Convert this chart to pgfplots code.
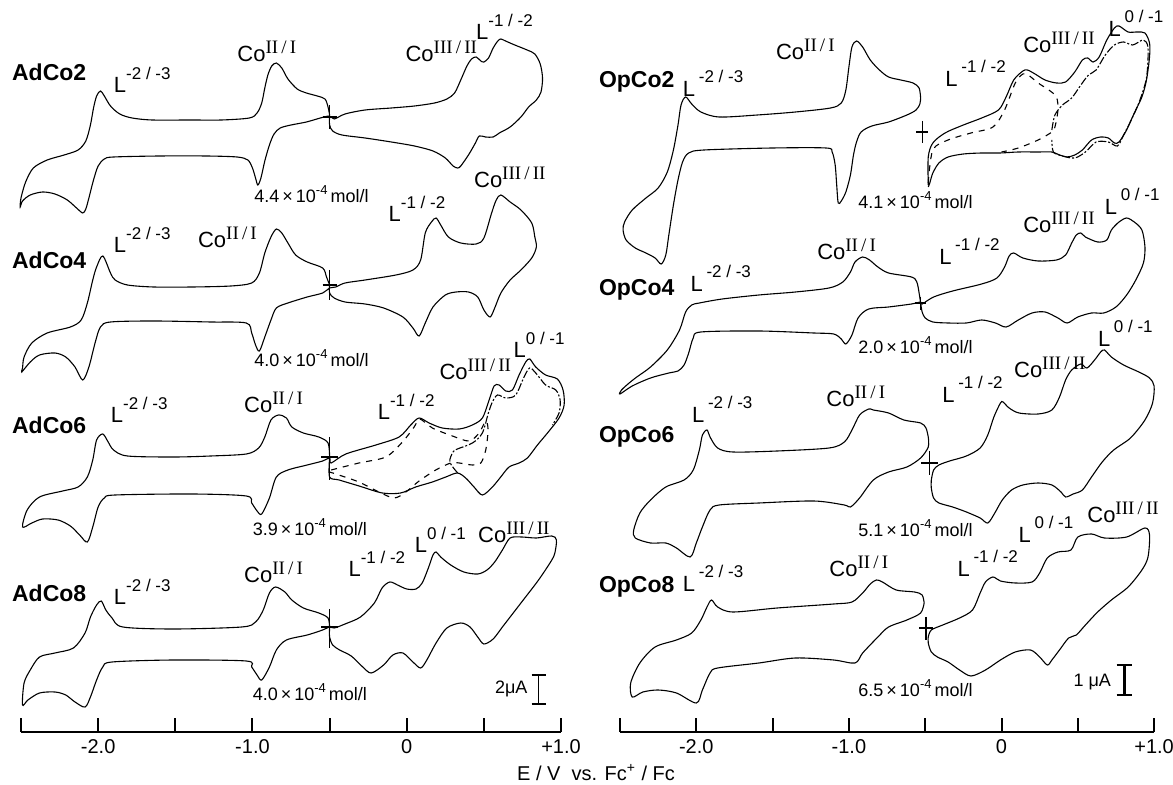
\documentclass[border=0pt]{standalone}
\usepackage{fontspec}
\setmainfont{Liberation Sans}
\newfontfamily\rmn{Liberation Serif}
\usepackage{pgfplots}
\pgfplotsset{compat=1.18}
\newcommand{\Lab}[1]{L\raisebox{6.5pt}{\fontsize{8.5}{9}\selectfont #1}}
\newcommand{\LabS}[1]{L\,\raisebox{7pt}{\fontsize{8.5}{9}\selectfont #1}}
\newcommand{\CoL}[1]{Co\raisebox{4.2pt}{\rmn\fontsize{9.5}{10}\selectfont #1}}
\newcommand{\conc}[1]{#1\,×\,10\raisebox{4pt}{\fontsize{6.5}{7}\selectfont -4}\,mol/l}
\tikzset{
  nm/.style={anchor=west, inner sep=0pt, font=\bfseries\fontsize{11.5}{12}\selectfont},
  lb/.style={anchor=base west, inner sep=0pt, font=\fontsize{11}{12}\selectfont},
  cc/.style={anchor=base west, inner sep=0pt, font=\fontsize{9}{10}\selectfont},
}
\pgfplotsset{cvaxis/.style={
  y=0.5pt, ymin=-732, ymax=0,
  xmin=-2.5, xmax=1.0,
  axis x line=bottom, axis y line=none,
  axis line style={-, line width=1.1pt},
  xtick={-2.5,-2,-1.5,-1,-0.5,0,0.5,1},
  xticklabels={,-2.0,,-1.0,,0,,+1.0},
  xtick align=inside,
  major tick length=7pt,
  every tick/.style={line width=1pt, black},
  tick label style={font=\fontsize{10}{11}\selectfont},
  clip=false,
  anchor=south west,
  cycle list={{black,solid,mark=none}},
  every axis plot/.append style={line width=0.55pt, black, mark=none, smooth, tension=0.5},
  cross/.style={line width=0.7pt, sharp plot},
}}
\begin{document}
\begin{tikzpicture}
\useasboundingbox (0,0) rectangle (586.5pt,-392.5pt);
% ================= LEFT PANEL =================
\begin{axis}[cvaxis, at={(10.5pt,-366pt)}, x=77.15pt]
% AdCo2
\addplot coordinates {(-0.50,-115) (-0.51,-107) (-0.53,-99) (-0.58,-96) (-0.65,-93) (-0.71,-89) (-0.77,-79) (-0.81,-68) (-0.845,-63) (-0.875,-66) (-0.90,-75) (-0.92,-88) (-0.94,-103) (-0.97,-113) (-1.02,-118) (-1.20,-120) (-1.40,-120) (-1.65,-120) (-1.78,-118) (-1.86,-114) (-1.92,-106) (-1.96,-96) (-1.985,-91) (-2.01,-96) (-2.03,-108) (-2.05,-125) (-2.08,-141) (-2.13,-150) (-2.22,-155) (-2.33,-160) (-2.42,-168) (-2.47,-182) (-2.50,-198) (-2.505,-207) (-2.49,-201) (-2.44,-195) (-2.36,-192) (-2.28,-194) (-2.20,-200) (-2.14,-208) (-2.10,-213) (-2.08,-209) (-2.06,-198) (-2.03,-180) (-2.00,-166) (-1.96,-159) (-1.90,-157) (-1.60,-156) (-1.30,-156) (-1.10,-157) (-1.03,-160) (-1.00,-168) (-0.98,-178) (-0.965,-185) (-0.945,-178) (-0.92,-161) (-0.89,-145) (-0.86,-134) (-0.82,-128) (-0.75,-125) (-0.65,-122) (-0.56,-118) (-0.50,-116)
(-0.47,-119) (-0.40,-114) (-0.27,-110) (-0.10,-108) (0.05,-106) (0.18,-103) (0.26,-99) (0.31,-93) (0.35,-80) (0.39,-66) (0.42,-59) (0.45,-57) (0.48,-61) (0.50,-62) (0.53,-58) (0.56,-48) (0.59,-41) (0.61,-39) (0.64,-41) (0.70,-45) (0.78,-50) (0.83,-54) (0.865,-64) (0.88,-78) (0.87,-92) (0.84,-100) (0.79,-107) (0.74,-117) (0.67,-127) (0.60,-133) (0.56,-137) (0.51,-137) (0.47,-136) (0.445,-143) (0.40,-155) (0.35,-166) (0.33,-168) (0.30,-166) (0.25,-158) (0.17,-151) (0.05,-146) (-0.10,-142) (-0.27,-138) (-0.42,-135) (-0.48,-131) (-0.50,-125) (-0.50,-116)};
% AdCo4
\addplot coordinates {(-0.50,-285) (-0.52,-277) (-0.545,-268) (-0.645,-262) (-0.72,-255) (-0.77,-243) (-0.81,-233) (-0.845,-229) (-0.88,-237) (-0.92,-253) (-0.955,-273) (-1.005,-283) (-1.14,-286) (-1.39,-287) (-1.64,-287) (-1.81,-285) (-1.89,-280) (-1.92,-273) (-1.97,-256) (-2.01,-267) (-2.035,-280) (-2.07,-303) (-2.11,-320) (-2.18,-327) (-2.33,-333) (-2.43,-343) (-2.48,-357) (-2.49,-368) (-2.495,-372) (-2.44,-362) (-2.38,-355) (-2.28,-353) (-2.21,-357) (-2.15,-367) (-2.10,-380) (-2.06,-367) (-2.02,-343) (-1.985,-327) (-1.92,-322) (-1.64,-321) (-1.27,-322) (-1.04,-323) (-1.005,-333) (-0.98,-345) (-0.955,-351) (-0.92,-337) (-0.88,-320) (-0.845,-308) (-0.77,-303) (-0.645,-297) (-0.545,-293) (-0.50,-288)
(-0.46,-287) (-0.40,-283) (-0.27,-280) (-0.07,-275) (0.04,-270) (0.09,-260) (0.12,-233) (0.16,-222) (0.19,-218) (0.22,-225) (0.27,-237) (0.35,-243) (0.45,-244) (0.50,-238) (0.55,-213) (0.58,-200) (0.61,-195) (0.67,-202) (0.74,-210) (0.81,-223) (0.83,-237) (0.84,-247) (0.81,-258) (0.74,-270) (0.67,-280) (0.61,-293) (0.57,-308) (0.54,-317) (0.50,-310) (0.46,-297) (0.40,-292) (0.32,-292) (0.25,-295) (0.17,-307) (0.12,-323) (0.08,-336) (0.04,-328) (-0.025,-317) (-0.15,-308) (-0.27,-304) (-0.40,-302) (-0.47,-298) (-0.50,-293) (-0.50,-285)};
% AdCo6
\addplot coordinates {(-0.50,-457) (-0.51,-443) (-0.57,-437) (-0.67,-433) (-0.745,-427) (-0.78,-418) (-0.83,-415) (-0.88,-420) (-0.92,-437) (-0.96,-448) (-1.04,-454) (-1.27,-456) (-1.51,-457) (-1.81,-456) (-1.90,-450) (-1.935,-442) (-1.97,-434) (-2.01,-440) (-2.035,-460) (-2.07,-477) (-2.13,-487) (-2.23,-491) (-2.38,-497) (-2.46,-510) (-2.49,-527) (-2.43,-523) (-2.36,-519) (-2.26,-520) (-2.18,-526) (-2.12,-535) (-2.07,-542) (-2.035,-527) (-2.00,-507) (-1.96,-498) (-1.89,-495) (-1.39,-494) (-1.04,-496) (-1.005,-503) (-0.97,-511) (-0.94,-514) (-0.89,-498) (-0.845,-477) (-0.77,-470) (-0.645,-465) (-0.545,-461) (-0.50,-458)
(-0.49,-463) (-0.395,-454) (-0.20,-445) (-0.05,-437) (0.026,-425) (0.08,-418) (0.145,-423) (0.23,-428) (0.34,-429) (0.425,-425) (0.49,-418) (0.534,-400) (0.566,-386) (0.598,-385) (0.642,-391) (0.685,-390) (0.728,-375) (0.771,-362) (0.797,-359) (0.836,-367) (0.90,-375) (0.976,-379) (1.013,-390) (1.02,-405) (0.987,-418) (0.912,-433) (0.847,-445) (0.782,-458) (0.728,-463) (0.663,-467) (0.609,-477) (0.555,-487) (0.49,-495) (0.436,-487) (0.382,-478) (0.328,-473) (0.253,-477) (0.166,-482) (0.058,-487) (-0.04,-493) (-0.158,-493) (-0.309,-486) (-0.438,-480) (-0.50,-477) (-0.50,-458)};
\addplot[dashed] coordinates {(-0.49,-470) (-0.31,-463) (-0.136,-457) (-0.028,-442) (0.048,-427) (0.084,-419) (0.166,-428) (0.296,-436) (0.404,-441) (0.469,-433) (0.512,-421) (0.527,-430) (0.512,-450) (0.48,-463) (0.426,-465) (0.34,-463) (0.285,-463) (0.188,-470) (0.08,-481) (-0.006,-492) (-0.082,-498) (-0.18,-492) (-0.31,-482) (-0.44,-475) (-0.50,-472)};
\addplot[dash pattern=on 4pt off 1pt on 1pt off 1pt] coordinates {(0.33,-473) (0.279,-462) (0.30,-452) (0.328,-449) (0.426,-443) (0.49,-433) (0.529,-413) (0.555,-402) (0.588,-395) (0.642,-398) (0.706,-395) (0.76,-377) (0.797,-368) (0.836,-373) (0.90,-385) (0.966,-390) (0.994,-400) (0.987,-413) (0.944,-425)};
% AdCo8
\addplot coordinates {(-0.50,-628) (-0.51,-618) (-0.57,-613) (-0.67,-608) (-0.745,-600) (-0.79,-592) (-0.85,-587) (-0.89,-593) (-0.93,-610) (-0.98,-622) (-1.07,-627) (-1.51,-629) (-1.84,-627) (-1.91,-618) (-1.95,-610) (-1.98,-601) (-2.01,-605) (-2.05,-617) (-2.085,-633) (-2.16,-648) (-2.28,-653) (-2.38,-657) (-2.44,-670) (-2.48,-683) (-2.49,-705) (-2.455,-700) (-2.38,-693) (-2.28,-692) (-2.21,-695) (-2.15,-702) (-2.085,-707) (-2.05,-697) (-2.01,-680) (-1.97,-667) (-1.91,-662) (-1.51,-660) (-1.04,-661) (-1.005,-667) (-0.97,-675) (-0.94,-680) (-0.89,-667) (-0.845,-650) (-0.78,-640) (-0.645,-635) (-0.545,-630) (-0.50,-627)
(-0.47,-628) (-0.40,-624) (-0.30,-617) (-0.21,-603) (-0.16,-588) (-0.11,-582) (-0.06,-585) (0.0,-589) (0.06,-589) (0.10,-583) (0.14,-568) (0.17,-555) (0.19,-552) (0.22,-557) (0.285,-565) (0.37,-572) (0.46,-574) (0.52,-570) (0.57,-562) (0.62,-550) (0.67,-538) (0.745,-537) (0.84,-538) (0.94,-536) (0.97,-540) (0.96,-553) (0.94,-560) (0.89,-572) (0.84,-583) (0.77,-597) (0.695,-612) (0.62,-627) (0.56,-639) (0.50,-644) (0.46,-637) (0.41,-627) (0.35,-623) (0.26,-628) (0.19,-643) (0.13,-660) (0.09,-668) (0.04,-662) (-0.025,-653) (-0.09,-655) (-0.15,-665) (-0.23,-673) (-0.285,-667) (-0.36,-656) (-0.435,-650) (-0.48,-645) (-0.50,-637) (-0.50,-628)};
% start markers (crosses)
\addplot[cross] coordinates {(-0.50,-105) (-0.50,-129)};
\addplot[cross] coordinates {(-0.545,-117) (-0.455,-117)};
\addplot[cross] coordinates {(-0.50,-270) (-0.50,-300)};
\addplot[cross] coordinates {(-0.545,-285) (-0.455,-285)};
\addplot[cross] coordinates {(-0.50,-437) (-0.50,-480)};
\addplot[cross] coordinates {(-0.555,-457) (-0.445,-457)};
\addplot[cross] coordinates {(-0.50,-609) (-0.50,-648)};
\addplot[cross] coordinates {(-0.555,-627) (-0.445,-627)};
% labels
\node[nm] at (axis cs:-2.56,-72) {AdCo2};
\node[nm] at (axis cs:-2.56,-260) {AdCo4};
\node[nm] at (axis cs:-2.56,-425) {AdCo6};
\node[nm] at (axis cs:-2.56,-593) {AdCo8};
\node[lb] at (axis cs:-1.90,-93) {\Lab{-2 / -3}};
\node[lb] at (axis cs:-1.90,-253) {\Lab{-2 / -3}};
\node[lb] at (axis cs:-1.92,-423) {\Lab{-2 / -3}};
\node[lb] at (axis cs:-1.90,-605) {\Lab{-2 / -3}};
\node[lb] at (axis cs:-1.10,-62) {\CoL{II\,/\,I}};
\node[lb] at (axis cs:-1.355,-248) {\CoL{II\,/\,I}};
\node[lb] at (axis cs:-1.056,-413) {\CoL{II\,/\,I}};
\node[lb] at (axis cs:-1.056,-583) {\CoL{II\,/\,I}};
\node[lb] at (axis cs:-0.01,-62) {\CoL{III\,/\,II}};
\node[lb] at (axis cs:0.434,-188) {\CoL{III\,/\,II}};
\node[lb] at (axis cs:0.21,-380) {\CoL{III\,/\,II}};
\node[lb] at (axis cs:0.46,-543) {\CoL{III\,/\,II}};
\node[lb] at (axis cs:0.447,-40) {\Lab{-1 / -2}};
\node[lb] at (axis cs:-0.12,-222) {\Lab{-1 / -2}};
\node[lb] at (axis cs:-0.19,-420) {\Lab{-1 / -2}};
\node[lb] at (axis cs:-0.38,-577) {\Lab{-1 / -2}};
\node[lb] at (axis cs:0.69,-358) {\Lab{0 / -1}};
\node[lb] at (axis cs:0.05,-553) {\Lab{0 / -1}};
\node[cc] at (axis cs:-0.99,-203) {\conc{4.4}};
\node[cc] at (axis cs:-0.99,-367) {\conc{4.0}};
\node[cc] at (axis cs:-1.00,-536) {\conc{3.9}};
\node[cc] at (axis cs:-1.00,-701) {\conc{4.0}};
\draw[line width=0.8pt] (axis cs:0.855,-675) -- (axis cs:0.855,-704);
\draw[line width=0.8pt] (axis cs:0.81,-675) -- (axis cs:0.90,-675);
\draw[line width=0.8pt] (axis cs:0.81,-704) -- (axis cs:0.90,-704);
\node[anchor=east, inner sep=0pt, font=\fontsize{9}{10}\selectfont] at (axis cs:0.785,-689) {2μA};
\end{axis}
% ================= RIGHT PANEL =================
\begin{axis}[cvaxis, at={(310pt,-366pt)}, x=76.3pt]
% OpCo2 left loop
\addplot coordinates {(-0.53,-98) (-0.54,-88) (-0.58,-83) (-0.66,-80) (-0.74,-77) (-0.80,-70) (-0.86,-60) (-0.91,-47) (-0.95,-41) (-0.98,-47) (-1.00,-67) (-1.02,-90) (-1.05,-103) (-1.12,-108) (-1.35,-112) (-1.60,-115) (-1.85,-117) (-1.97,-112) (-2.03,-104) (-2.07,-97) (-2.10,-105) (-2.12,-125) (-2.15,-150) (-2.19,-172) (-2.25,-188) (-2.33,-198) (-2.42,-210) (-2.47,-222) (-2.48,-230) (-2.46,-240) (-2.40,-248) (-2.33,-253) (-2.27,-258) (-2.23,-264) (-2.20,-255) (-2.18,-235) (-2.15,-205) (-2.12,-180) (-2.09,-162) (-2.05,-153) (-1.95,-150) (-1.50,-148) (-1.15,-148) (-1.11,-152) (-1.09,-165) (-1.08,-185) (-1.07,-203) (-1.05,-201) (-1.02,-192) (-0.99,-175) (-0.97,-155) (-0.95,-142) (-0.92,-132) (-0.85,-126) (-0.74,-122) (-0.62,-115) (-0.56,-110) (-0.535,-104) (-0.53,-98)};
% OpCo2 right loop
\addplot coordinates {(-0.48,-185) (-0.48,-157) (-0.45,-143) (-0.37,-133) (-0.25,-125) (-0.13,-118) (-0.02,-110) (0.03,-97) (0.08,-80) (0.14,-71) (0.17,-70) (0.22,-74) (0.285,-80) (0.36,-83) (0.42,-82) (0.48,-72) (0.53,-60) (0.565,-58) (0.60,-62) (0.64,-57) (0.69,-40) (0.74,-28) (0.77,-26) (0.83,-32) (0.89,-32) (0.94,-33) (0.97,-43) (0.97,-57) (0.95,-80) (0.92,-97) (0.87,-113) (0.82,-130) (0.77,-142) (0.74,-143) (0.70,-138) (0.65,-137) (0.59,-140) (0.53,-150) (0.48,-155) (0.43,-157) (0.38,-155) (0.33,-152) (0.24,-152) (0.11,-152) (-0.01,-153) (-0.13,-153) (-0.25,-154) (-0.35,-157) (-0.41,-163) (-0.45,-173) (-0.47,-183) (-0.48,-187)};
\addplot[dashed] coordinates {(-0.48,-183) (-0.45,-150) (-0.35,-140) (-0.20,-133) (-0.056,-127) (0.02,-110) (0.09,-83) (0.14,-74) (0.175,-75) (0.24,-83) (0.31,-90) (0.36,-97) (0.37,-110) (0.35,-127) (0.33,-132) (0.24,-140) (0.11,-148) (0.0,-152)};
\addplot[dash pattern=on 4pt off 1pt on 1pt off 1pt] coordinates {(0.33,-130) (0.35,-115) (0.40,-105) (0.46,-98) (0.52,-85) (0.57,-75) (0.62,-70) (0.68,-55) (0.74,-45) (0.80,-42) (0.86,-45) (0.93,-40) (0.96,-48) (0.95,-78) (0.90,-103) (0.85,-120) (0.80,-135) (0.76,-146) (0.70,-142) (0.62,-142) (0.55,-152) (0.48,-158) (0.40,-156) (0.34,-152) (0.33,-140)};
% OpCo4
\addplot coordinates {(-0.53,-303) (-0.54,-293) (-0.555,-282) (-0.59,-277) (-0.74,-273) (-0.81,-267) (-0.865,-260) (-0.91,-257) (-0.96,-262) (-0.99,-272) (-1.04,-282) (-1.13,-288) (-1.35,-292) (-1.59,-295) (-1.83,-299) (-1.98,-303) (-2.03,-305) (-2.07,-312) (-2.11,-330) (-2.19,-350) (-2.30,-367) (-2.39,-377) (-2.44,-383) (-2.49,-390) (-2.50,-394) (-2.42,-386) (-2.30,-378) (-2.18,-373) (-2.12,-371) (-2.08,-365) (-2.05,-353) (-2.02,-338) (-1.97,-332) (-1.59,-331) (-1.23,-333) (-1.10,-334) (-1.05,-339) (-1.02,-344) (-0.98,-335) (-0.94,-318) (-0.87,-309) (-0.74,-307) (-0.59,-304) (-0.53,-302)
(-0.52,-304) (-0.445,-297) (-0.32,-291) (-0.13,-284) (-0.03,-278) (0.02,-267) (0.05,-256) (0.08,-253) (0.14,-258) (0.24,-261) (0.36,-260) (0.42,-255) (0.46,-243) (0.49,-235) (0.52,-233) (0.55,-237) (0.63,-242) (0.69,-240) (0.72,-230) (0.77,-222) (0.82,-218) (0.87,-222) (0.92,-230) (0.94,-247) (0.93,-263) (0.88,-280) (0.82,-295) (0.75,-307) (0.67,-313) (0.59,-313) (0.50,-317) (0.43,-323) (0.37,-318) (0.285,-312) (0.20,-313) (0.11,-320) (0.03,-327) (-0.04,-323) (-0.13,-320) (-0.23,-323) (-0.35,-323) (-0.45,-322) (-0.50,-318) (-0.52,-312) (-0.53,-303)};
% OpCo6 left loop
\addplot coordinates {(-0.48,-437) (-0.495,-428) (-0.53,-423) (-0.64,-420) (-0.74,-413) (-0.84,-410) (-0.87,-409) (-0.93,-415) (-0.98,-430) (-1.03,-442) (-1.13,-448) (-1.47,-451) (-1.76,-452) (-1.86,-448) (-1.91,-437) (-1.93,-430) (-1.96,-435) (-1.98,-450) (-2.02,-470) (-2.08,-480) (-2.20,-487) (-2.30,-500) (-2.37,-513) (-2.41,-530) (-2.40,-538) (-2.30,-543) (-2.20,-543) (-2.13,-548) (-2.04,-557) (-2.00,-543) (-1.96,-527) (-1.91,-510) (-1.85,-505) (-1.59,-503) (-1.23,-501) (-1.03,-505) (-0.99,-507) (-0.93,-498) (-0.84,-480) (-0.74,-472) (-0.62,-467) (-0.53,-458) (-0.48,-447) (-0.48,-437)};
% OpCo6 right loop
\addplot coordinates {(-0.46,-480) (-0.445,-470) (-0.41,-465) (-0.34,-461) (-0.23,-456) (-0.14,-448) (-0.09,-435) (-0.05,-417) (-0.007,-403) (0.01,-402) (0.05,-408) (0.115,-413) (0.24,-414) (0.33,-410) (0.38,-397) (0.42,-380) (0.46,-370) (0.52,-364) (0.56,-368) (0.61,-360) (0.65,-352) (0.675,-350) (0.72,-357) (0.80,-365) (0.90,-372) (0.97,-378) (1.00,-386) (0.99,-403) (0.94,-420) (0.845,-438) (0.735,-450) (0.66,-462) (0.59,-477) (0.53,-490) (0.47,-494) (0.42,-497) (0.39,-492) (0.33,-485) (0.24,-483) (0.14,-485) (0.066,-490) (0.005,-500) (-0.044,-513) (-0.09,-523) (-0.14,-518) (-0.23,-512) (-0.32,-507) (-0.41,-503) (-0.445,-498) (-0.46,-488) (-0.46,-480)};
% OpCo8 left loop
\addplot coordinates {(-0.507,-603) (-0.52,-595) (-0.57,-592) (-0.69,-590) (-0.78,-582) (-0.82,-580) (-0.86,-584) (-0.91,-593) (-0.98,-602) (-1.10,-604) (-1.47,-608) (-1.76,-612) (-1.86,-607) (-1.90,-600) (-1.93,-607) (-1.97,-620) (-2.03,-633) (-2.13,-640) (-2.27,-647) (-2.37,-663) (-2.43,-683) (-2.42,-697) (-2.35,-692) (-2.25,-690) (-2.13,-693) (-2.00,-703) (-1.96,-690) (-1.91,-673) (-1.86,-668) (-1.59,-663) (-1.35,-658) (-1.10,-660) (-0.96,-663) (-0.91,-653) (-0.81,-637) (-0.74,-627) (-0.62,-620) (-0.53,-613) (-0.507,-603)};
% OpCo8 right loop
\addplot coordinates {(-0.48,-637) (-0.46,-630) (-0.385,-625) (-0.275,-618) (-0.19,-610) (-0.14,-593) (-0.105,-582) (-0.056,-577) (-0.007,-581) (0.09,-583) (0.20,-582) (0.25,-573) (0.30,-558) (0.37,-552) (0.455,-550) (0.50,-537) (0.59,-534) (0.675,-538) (0.82,-537) (0.94,-528) (0.97,-535) (0.96,-557) (0.92,-570) (0.83,-587) (0.72,-600) (0.63,-612) (0.55,-625) (0.49,-635) (0.44,-638) (0.38,-650) (0.33,-660) (0.30,-665) (0.25,-657) (0.19,-650) (0.09,-652) (-0.007,-660) (-0.105,-670) (-0.20,-676) (-0.275,-670) (-0.35,-662) (-0.42,-657) (-0.46,-652) (-0.48,-643) (-0.48,-637)};
% crosses
\addplot[cross, line width=0.6pt] coordinates {(-0.52,-121) (-0.52,-143)};
\addplot[cross, line width=0.6pt] coordinates {(-0.56,-132) (-0.48,-132)};
\addplot[cross, line width=0.6pt] coordinates {(-0.53,-297) (-0.53,-310)};
\addplot[cross, line width=0.6pt] coordinates {(-0.565,-303) (-0.495,-303)};
\addplot[cross, line width=0.6pt] coordinates {(-0.47,-451) (-0.47,-475)};
\addplot[cross, line width=0.6pt] coordinates {(-0.525,-463) (-0.415,-463)};
\addplot[cross, line width=0.6pt] coordinates {(-0.495,-617) (-0.495,-640)};
\addplot[cross, line width=0.6pt] coordinates {(-0.54,-628) (-0.45,-628)};
% labels
\node[nm] at (axis cs:-2.64,-82) {OpCo2};
\node[nm] at (axis cs:-2.64,-290) {OpCo4};
\node[nm] at (axis cs:-2.64,-437) {OpCo6};
\node[nm] at (axis cs:-2.64,-587) {OpCo8};
\node[lb] at (axis cs:-2.09,-97) {\LabS{-2 / -3}};
\node[lb] at (axis cs:-2.04,-292) {\LabS{-2 / -3}};
\node[lb] at (axis cs:-2.03,-423) {\LabS{-2 / -3}};
\node[lb] at (axis cs:-2.09,-592) {\LabS{-2 / -3}};
\node[lb] at (axis cs:-1.48,-60) {\CoL{II\,/\,I}};
\node[lb] at (axis cs:-1.21,-260) {\CoL{II\,/\,I}};
\node[lb] at (axis cs:-1.15,-407) {\CoL{II\,/\,I}};
\node[lb] at (axis cs:-1.13,-577) {\CoL{II\,/\,I}};
\node[lb] at (axis cs:-0.37,-87) {\LabS{-1 / -2}};
\node[lb] at (axis cs:-0.41,-265) {\LabS{-1 / -2}};
\node[lb] at (axis cs:-0.39,-403) {\LabS{-1 / -2}};
\node[lb] at (axis cs:-0.29,-577) {\LabS{-1 / -2}};
\node[lb] at (axis cs:0.14,-53) {\CoL{III\,/\,II}};
\node[lb] at (axis cs:0.14,-233) {\CoL{III\,/\,II}};
\node[lb] at (axis cs:0.08,-378) {\CoL{III\,/\,II}};
\node[lb] at (axis cs:0.56,-523) {\CoL{III\,/\,II}};
\node[lb] at (axis cs:0.70,-37) {\LabS{0 / -1}};
\node[lb] at (axis cs:0.675,-215) {\LabS{0 / -1}};
\node[lb] at (axis cs:0.63,-347) {\LabS{0 / -1}};
\node[lb] at (axis cs:0.11,-543) {\LabS{0 / -1}};
\node[cc] at (axis cs:-0.94,-209) {\conc{4.1}};
\node[cc] at (axis cs:-0.94,-354) {\conc{2.0}};
\node[cc] at (axis cs:-0.94,-537) {\conc{5.1}};
\node[cc] at (axis cs:-0.94,-697) {\conc{6.5}};
\draw[line width=1.4pt] (axis cs:0.806,-665) -- (axis cs:0.806,-695);
\draw[line width=1.4pt] (axis cs:0.755,-665) -- (axis cs:0.857,-665);
\draw[line width=1.4pt] (axis cs:0.755,-695) -- (axis cs:0.857,-695);
\node[anchor=east, inner sep=0pt, font=\fontsize{9}{10}\selectfont] at (axis cs:0.72,-682) {1 μA};
\end{axis}
\node[anchor=base, font=\fontsize{10}{11}\selectfont] at (298pt,-390pt) {E / V\ \ vs. Fc\textsuperscript{+} / Fc};
\end{tikzpicture}
\end{document}
